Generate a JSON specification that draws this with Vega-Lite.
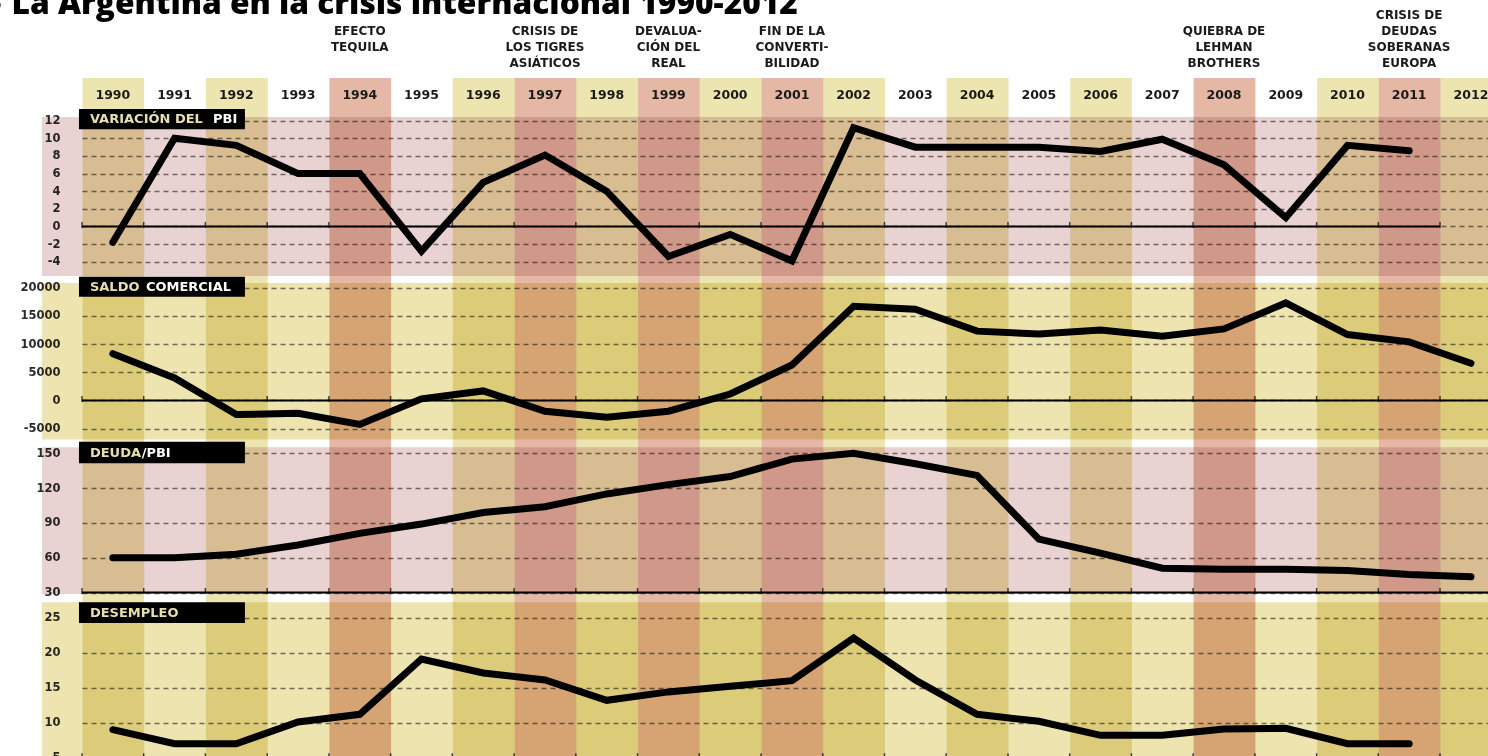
{
  "$schema": "https://vega.github.io/schema/vega-lite/v6.json",
  "width": 1406,
  "height": 756,
  "autosize": {"type": "none"},
  "padding": {"left": 82, "top": 0, "right": 0, "bottom": 0},
  "background": "#ffffff",
  "config": {"view": {"stroke": null}, "font": "DejaVu Sans"},
  "datasets": {
    "titulo": [{"texto": "● La Argentina en la crisis internacional 1990-2012"}],
    "cols": [
      {"year": "1990", "tono": "amarillo"}, {"year": "1991", "tono": "blanco"},
      {"year": "1992", "tono": "amarillo"}, {"year": "1993", "tono": "blanco"},
      {"year": "1994", "tono": "rojo"}, {"year": "1995", "tono": "blanco"},
      {"year": "1996", "tono": "amarillo"}, {"year": "1997", "tono": "rojo"},
      {"year": "1998", "tono": "amarillo"}, {"year": "1999", "tono": "rojo"},
      {"year": "2000", "tono": "amarillo"}, {"year": "2001", "tono": "rojo"},
      {"year": "2002", "tono": "amarillo"}, {"year": "2003", "tono": "blanco"},
      {"year": "2004", "tono": "amarillo"}, {"year": "2005", "tono": "blanco"},
      {"year": "2006", "tono": "amarillo"}, {"year": "2007", "tono": "blanco"},
      {"year": "2008", "tono": "rojo"}, {"year": "2009", "tono": "blanco"},
      {"year": "2010", "tono": "amarillo"}, {"year": "2011", "tono": "rojo"},
      {"year": "2012", "tono": "amarillo"}
    ],
    "crisis": [
      {"year": "1994", "texto": ["", "", "", "", "EFECTO", "", "TEQUILA"]},
      {"year": "1997", "texto": ["", "CRISIS DE", "LOS TIGRES", "ASIÁTICOS"]},
      {"year": "1999", "texto": ["", "DEVALUA-", "CIÓN DEL", "REAL"]},
      {"year": "2001", "texto": ["", "FIN DE LA", "CONVERTI-", "BILIDAD"]},
      {"year": "2008", "texto": ["", "QUIEBRA DE", "LEHMAN", "BROTHERS"]},
      {"year": "2011", "texto": ["CRISIS DE", "DEUDAS", "SOBERANAS", "EUROPA"]}
    ],
    "pbi": [
      {"year": "1990", "valor": -1.8}, {"year": "1991", "valor": 10.0},
      {"year": "1992", "valor": 9.2}, {"year": "1993", "valor": 6.0},
      {"year": "1994", "valor": 6.0}, {"year": "1995", "valor": -2.8},
      {"year": "1996", "valor": 5.0}, {"year": "1997", "valor": 8.1},
      {"year": "1998", "valor": 4.0}, {"year": "1999", "valor": -3.4},
      {"year": "2000", "valor": -0.9}, {"year": "2001", "valor": -3.9},
      {"year": "2002", "valor": 11.2}, {"year": "2003", "valor": 9.0},
      {"year": "2004", "valor": 9.0}, {"year": "2005", "valor": 9.0},
      {"year": "2006", "valor": 8.5}, {"year": "2007", "valor": 9.9},
      {"year": "2008", "valor": 7.0}, {"year": "2009", "valor": 1.0},
      {"year": "2010", "valor": 9.2}, {"year": "2011", "valor": 8.6}
    ],
    "saldo": [
      {"year": "1990", "valor": 8300}, {"year": "1991", "valor": 4000},
      {"year": "1992", "valor": -2500}, {"year": "1993", "valor": -2250},
      {"year": "1994", "valor": -4250}, {"year": "1995", "valor": 300},
      {"year": "1996", "valor": 1700}, {"year": "1997", "valor": -1900},
      {"year": "1998", "valor": -2950}, {"year": "1999", "valor": -1900},
      {"year": "2000", "valor": 1150}, {"year": "2001", "valor": 6300},
      {"year": "2002", "valor": 16700}, {"year": "2003", "valor": 16200},
      {"year": "2004", "valor": 12300}, {"year": "2005", "valor": 11800},
      {"year": "2006", "valor": 12500}, {"year": "2007", "valor": 11400},
      {"year": "2008", "valor": 12700}, {"year": "2009", "valor": 17300},
      {"year": "2010", "valor": 11700}, {"year": "2011", "valor": 10400},
      {"year": "2012", "valor": 6600}
    ],
    "deuda": [
      {"year": "1990", "valor": 60}, {"year": "1991", "valor": 60},
      {"year": "1992", "valor": 63}, {"year": "1993", "valor": 71},
      {"year": "1994", "valor": 81}, {"year": "1995", "valor": 89},
      {"year": "1996", "valor": 99}, {"year": "1997", "valor": 104},
      {"year": "1998", "valor": 115}, {"year": "1999", "valor": 123},
      {"year": "2000", "valor": 130}, {"year": "2001", "valor": 145},
      {"year": "2002", "valor": 150}, {"year": "2003", "valor": 141},
      {"year": "2004", "valor": 131}, {"year": "2005", "valor": 76},
      {"year": "2006", "valor": 64}, {"year": "2007", "valor": 51},
      {"year": "2008", "valor": 50}, {"year": "2009", "valor": 50},
      {"year": "2010", "valor": 49}, {"year": "2011", "valor": 45.5},
      {"year": "2012", "valor": 43.5}
    ],
    "desempleo": [
      {"year": "1990", "valor": 9.0}, {"year": "1991", "valor": 7.0},
      {"year": "1992", "valor": 7.0}, {"year": "1993", "valor": 10.1},
      {"year": "1994", "valor": 11.2}, {"year": "1995", "valor": 19.1},
      {"year": "1996", "valor": 17.1}, {"year": "1997", "valor": 16.1},
      {"year": "1998", "valor": 13.2}, {"year": "1999", "valor": 14.4},
      {"year": "2000", "valor": 15.2}, {"year": "2001", "valor": 16.0},
      {"year": "2002", "valor": 22.1}, {"year": "2003", "valor": 16.1},
      {"year": "2004", "valor": 11.2}, {"year": "2005", "valor": 10.2},
      {"year": "2006", "valor": 8.2}, {"year": "2007", "valor": 8.2},
      {"year": "2008", "valor": 9.1}, {"year": "2009", "valor": 9.2},
      {"year": "2010", "valor": 7.0}, {"year": "2011", "valor": 7.0}
    ],
    "rotulos": [
      {"panel": "pbi", "parte1": "VARIACIÓN DEL", "parte2": "PBI"},
      {"panel": "saldo", "parte1": "SALDO", "parte2": "COMERCIAL"},
      {"panel": "deuda", "parte1": "DEUDA", "parte2": "/PBI"},
      {"panel": "desempleo", "parte1": "DESEMPLEO", "parte2": ""}
    ]
  },
  "resolve": {"scale": {"y": "independent"}, "axis": {"y": "independent"}},
  "layer": [
    {
      "layer": [
        {
          "data": {"name": "cols"},
          "mark": {"type": "rect", "blend": "multiply"},
          "encoding": {
            "x": {"field": "year", "type": "temporal", "timeUnit": "utcyear",
                  "scale": {"type": "utc", "nice": false, "domain": [{"year": 1990, "month": 1, "date": 1, "utc": true}, {"year": 2012, "month": 10, "date": 11, "utc": true}]},
                  "axis": null},
            "y": {"datum": 1, "type": "quantitative", "scale": {"domain": [0, 1], "range": [117, 78], "nice": false, "zero": false}, "axis": null},
            "y2": {"datum": -17},
            "color": {"field": "tono", "type": "nominal", "scale": {"domain": ["amarillo", "rojo", "blanco"], "range": ["#ede5b0", "#e5b8a5", "#ffffff"]}, "legend": null}
          }
        },
        {
          "data": {"name": "cols"},
          "mark": {"type": "text", "font": "DejaVu Sans", "fontWeight": "bold", "fontSize": 12.5, "color": "#1a1a1a", "align": "center", "baseline": "middle"},
          "encoding": {
            "x": {"field": "year", "type": "temporal", "timeUnit": "utcyear", "bandPosition": 0.5, "axis": null},
            "y": {"datum": 0.56, "type": "quantitative", "axis": null},
            "text": {"field": "year", "type": "temporal", "timeUnit": "utcyear"}
          }
        },
        {
          "data": {"name": "crisis"},
          "transform": [{"filter": "datum.year != '1994'"}],
          "mark": {"type": "text", "font": "DejaVu Sans", "fontWeight": "bold", "fontSize": 12, "lineHeight": 16, "color": "#1a1a1a", "align": "center", "baseline": "middle"},
          "encoding": {
            "x": {"field": "year", "type": "temporal", "timeUnit": "utcyear", "bandPosition": 0.5, "axis": null},
            "y": {"datum": 2.615, "type": "quantitative", "axis": null},
            "text": {"field": "texto", "type": "nominal"}
          }
        },
        {
          "data": {"name": "crisis"},
          "transform": [{"filter": "datum.year == '1994'"}],
          "mark": {"type": "text", "font": "DejaVu Sans", "fontWeight": "bold", "fontSize": 12, "lineHeight": 8, "color": "#1a1a1a", "align": "center", "baseline": "middle"},
          "encoding": {
            "x": {"field": "year", "type": "temporal", "timeUnit": "utcyear", "bandPosition": 0.5, "axis": null},
            "y": {"datum": 2.615, "type": "quantitative", "axis": null},
            "text": {"field": "texto", "type": "nominal"}
          }
        },
        {
          "data": {"name": "titulo"},
          "mark": {"type": "text", "font": "Open Sans", "fontWeight": 800, "fontSize": 31.7, "color": "#000000", "align": "left", "baseline": "alphabetic"},
          "encoding": {
            "x": {"datum": {"year": 1988, "month": 6, "date": 1, "utc": true}, "type": "temporal", "axis": null},
            "y": {"datum": 2.641, "type": "quantitative", "axis": null},
            "text": {"field": "texto", "type": "nominal"}
          }
        }
      ]
    },
    {
      "layer": [
        {
          "data": {"name": "rotulos"},
          "transform": [{"filter": "datum.panel == 'pbi'"}],
          "mark": {"type": "rect", "blend": "multiply", "color": "#e8d3d2"},
          "encoding": {
            "x": {"datum": {"year": 1989, "month": 5, "date": 9, "utc": true}, "type": "temporal", "axis": null},
            "x2": {"datum": {"year": 2013, "month": 6, "date": 1, "utc": true}},
            "y": {"datum": 12.42, "type": "quantitative", "scale": {"domain": [-5.62, 12.42], "range": [276, 117], "nice": false, "zero": false},
                  "axis": {"orient": "left", "values": [-4, -2, 0, 2, 4, 6, 8, 10, 12], "labelExpr": "'' + datum.value", "title": null, "domain": false, "ticks": false, "labelPadding": 22, "labelFont": "DejaVu Sans", "labelFontWeight": "bold", "labelFontSize": 11.5, "labelColor": "#2a2a2a", "labelFlush": false, "labelOverlap": false, "grid": true, "gridColor": "#7a7a7a", "gridDash": [5, 4], "gridWidth": 1.4}},
            "y2": {"datum": -5.62}
          }
        },
        {
          "data": {"name": "rotulos"},
          "transform": [{"filter": "datum.panel == 'pbi'"}],
          "mark": {"type": "rule", "color": "#000000", "strokeWidth": 2},
          "encoding": {
            "x": {"datum": {"year": 1990, "month": 1, "date": 1, "utc": true}, "type": "temporal", "axis": null},
            "x2": {"datum": {"year": 2012, "month": 1, "date": 1, "utc": true}},
            "y": {"datum": 0, "type": "quantitative"}
          }
        },
        {
          "data": {"name": "cols"},
          "mark": {"type": "tick", "orient": "vertical", "color": "#000000", "size": 6, "thickness": 1.5, "yOffset": -1.5},
          "encoding": {
            "x": {"field": "year", "type": "temporal", "timeUnit": "utcyear", "bandPosition": 0, "axis": null},
            "y": {"datum": 0, "type": "quantitative"}
          }
        },
        {
          "data": {"name": "pbi"},
          "mark": {"type": "line", "color": "#000000", "strokeWidth": 7, "strokeCap": "round", "strokeJoin": "miter", "strokeMiterLimit": 3},
          "encoding": {
            "x": {"field": "year", "type": "temporal", "timeUnit": "utcyear", "bandPosition": 0.5, "axis": null},
            "y": {"field": "valor", "type": "quantitative"}
          }
        },
        {
          "data": {"name": "rotulos"},
          "transform": [{"filter": "datum.panel == 'pbi'"}],
          "mark": {"type": "rect", "color": "#000000"},
          "encoding": {
            "x": {"datum": {"year": 1989, "month": 12, "date": 14, "utc": true}, "type": "temporal", "axis": null},
            "x2": {"datum": {"year": 1992, "month": 8, "date": 22, "utc": true}},
            "y": {"datum": 13.33, "type": "quantitative"},
            "y2": {"datum": 11.02}
          }
        },
        {
          "data": {"name": "rotulos"},
          "transform": [{"filter": "datum.panel == 'pbi'"}],
          "mark": {"type": "text", "font": "DejaVu Sans", "fontWeight": "bold", "fontSize": 13, "color": "#e6dfae", "align": "left", "baseline": "middle"},
          "encoding": {
            "x": {"datum": {"year": 1990, "month": 2, "date": 17, "utc": true}, "type": "temporal", "axis": null},
            "y": {"datum": 12.14, "type": "quantitative"},
            "text": {"field": "parte1"}
          }
        },
        {
          "data": {"name": "rotulos"},
          "transform": [{"filter": "datum.panel == 'pbi'"}],
          "mark": {"type": "text", "font": "DejaVu Sans", "fontWeight": "bold", "fontSize": 13, "color": "#ffffff", "align": "left", "baseline": "middle"},
          "encoding": {
            "x": {"datum": {"year": 1992, "month": 2, "date": 15, "utc": true}, "type": "temporal", "axis": null},
            "y": {"datum": 12.14, "type": "quantitative"},
            "text": {"field": "parte2"}
          }
        }
      ]
    },
    {
      "layer": [
        {
          "data": {"name": "rotulos"},
          "transform": [{"filter": "datum.panel == 'saldo'"}],
          "mark": {"type": "rect", "blend": "multiply", "color": "#ede4b0"},
          "encoding": {
            "x": {"datum": {"year": 1989, "month": 5, "date": 9, "utc": true}, "type": "temporal", "axis": null},
            "x2": {"datum": {"year": 2013, "month": 6, "date": 1, "utc": true}},
            "y": {"datum": 20833, "type": "quantitative", "scale": {"domain": [-6915, 20833], "range": [439.5, 283], "nice": false, "zero": false},
                  "axis": {"orient": "left", "values": [-5000, 0, 5000, 10000, 15000, 20000], "labelExpr": "'' + datum.value", "title": null, "domain": false, "ticks": false, "labelPadding": 22, "labelFont": "DejaVu Sans", "labelFontWeight": "bold", "labelFontSize": 11.5, "labelColor": "#2a2a2a", "labelFlush": false, "labelOverlap": false, "grid": true, "gridColor": "#7a7a7a", "gridDash": [5, 4], "gridWidth": 1.4}},
            "y2": {"datum": -6915}
          }
        },
        {
          "data": {"name": "rotulos"},
          "transform": [{"filter": "datum.panel == 'saldo'"}],
          "mark": {"type": "rule", "color": "#000000", "strokeWidth": 2},
          "encoding": {
            "x": {"datum": {"year": 1990, "month": 1, "date": 1, "utc": true}, "type": "temporal", "axis": null},
            "x2": {"datum": {"year": 2013, "month": 6, "date": 1, "utc": true}},
            "y": {"datum": 0, "type": "quantitative"}
          }
        },
        {
          "data": {"name": "cols"},
          "mark": {"type": "tick", "orient": "vertical", "color": "#000000", "size": 6, "thickness": 1.5, "yOffset": -1.5},
          "encoding": {
            "x": {"field": "year", "type": "temporal", "timeUnit": "utcyear", "bandPosition": 0, "axis": null},
            "y": {"datum": 0, "type": "quantitative"}
          }
        },
        {
          "data": {"name": "saldo"},
          "mark": {"type": "line", "color": "#000000", "strokeWidth": 7, "strokeCap": "round", "strokeJoin": "miter", "strokeMiterLimit": 3},
          "encoding": {
            "x": {"field": "year", "type": "temporal", "timeUnit": "utcyear", "bandPosition": 0.5, "axis": null},
            "y": {"field": "valor", "type": "quantitative"}
          }
        },
        {
          "data": {"name": "rotulos"},
          "transform": [{"filter": "datum.panel == 'saldo'"}],
          "mark": {"type": "rect", "color": "#000000"},
          "encoding": {
            "x": {"datum": {"year": 1989, "month": 12, "date": 14, "utc": true}, "type": "temporal", "axis": null},
            "x2": {"datum": {"year": 1992, "month": 8, "date": 22, "utc": true}},
            "y": {"datum": 21950, "type": "quantitative"},
            "y2": {"datum": 18404}
          }
        },
        {
          "data": {"name": "rotulos"},
          "transform": [{"filter": "datum.panel == 'saldo'"}],
          "mark": {"type": "text", "font": "DejaVu Sans", "fontWeight": "bold", "fontSize": 13, "color": "#e6dfae", "align": "left", "baseline": "middle"},
          "encoding": {
            "x": {"datum": {"year": 1990, "month": 2, "date": 17, "utc": true}, "type": "temporal", "axis": null},
            "y": {"datum": 20177, "type": "quantitative"},
            "text": {"field": "parte1"}
          }
        },
        {
          "data": {"name": "rotulos"},
          "transform": [{"filter": "datum.panel == 'saldo'"}],
          "mark": {"type": "text", "font": "DejaVu Sans", "fontWeight": "bold", "fontSize": 13, "color": "#ffffff", "align": "left", "baseline": "middle"},
          "encoding": {
            "x": {"datum": {"year": 1991, "month": 1, "date": 14, "utc": true}, "type": "temporal", "axis": null},
            "y": {"datum": 20177, "type": "quantitative"},
            "text": {"field": "parte2"}
          }
        }
      ]
    },
    {
      "layer": [
        {
          "data": {"name": "rotulos"},
          "transform": [{"filter": "datum.panel == 'deuda'"}],
          "mark": {"type": "rect", "blend": "multiply", "color": "#e8d3d2"},
          "encoding": {
            "x": {"datum": {"year": 1989, "month": 5, "date": 9, "utc": true}, "type": "temporal", "axis": null},
            "x2": {"datum": {"year": 2013, "month": 6, "date": 1, "utc": true}},
            "y": {"datum": 155.2, "type": "quantitative", "scale": {"domain": [30, 155.2], "range": [592.5, 447.3], "nice": false, "zero": false},
                  "axis": {"orient": "left", "values": [30, 60, 90, 120, 150], "labelExpr": "'' + datum.value", "title": null, "domain": false, "ticks": false, "labelPadding": 22, "labelFont": "DejaVu Sans", "labelFontWeight": "bold", "labelFontSize": 11.5, "labelColor": "#2a2a2a", "labelFlush": false, "labelOverlap": false, "grid": true, "gridColor": "#7a7a7a", "gridDash": [5, 4], "gridWidth": 1.4}},
            "y2": {"datum": 28.8}
          }
        },
        {
          "data": {"name": "rotulos"},
          "transform": [{"filter": "datum.panel == 'deuda'"}],
          "mark": {"type": "rule", "color": "#000000", "strokeWidth": 2},
          "encoding": {
            "x": {"datum": {"year": 1990, "month": 1, "date": 1, "utc": true}, "type": "temporal", "axis": null},
            "x2": {"datum": {"year": 2013, "month": 6, "date": 1, "utc": true}},
            "y": {"datum": 30, "type": "quantitative"}
          }
        },
        {
          "data": {"name": "cols"},
          "mark": {"type": "tick", "orient": "vertical", "color": "#000000", "size": 6, "thickness": 1.5, "yOffset": -1.5},
          "encoding": {
            "x": {"field": "year", "type": "temporal", "timeUnit": "utcyear", "bandPosition": 0, "axis": null},
            "y": {"datum": 30, "type": "quantitative"}
          }
        },
        {
          "data": {"name": "deuda"},
          "mark": {"type": "line", "color": "#000000", "strokeWidth": 7, "strokeCap": "round", "strokeJoin": "miter", "strokeMiterLimit": 3},
          "encoding": {
            "x": {"field": "year", "type": "temporal", "timeUnit": "utcyear", "bandPosition": 0.5, "axis": null},
            "y": {"field": "valor", "type": "quantitative"}
          }
        },
        {
          "data": {"name": "rotulos"},
          "transform": [{"filter": "datum.panel == 'deuda'"}],
          "mark": {"type": "rect", "color": "#000000"},
          "encoding": {
            "x": {"datum": {"year": 1989, "month": 12, "date": 14, "utc": true}, "type": "temporal", "axis": null},
            "x2": {"datum": {"year": 1992, "month": 8, "date": 22, "utc": true}},
            "y": {"datum": 160, "type": "quantitative"},
            "y2": {"datum": 141.4}
          }
        },
        {
          "data": {"name": "rotulos"},
          "transform": [{"filter": "datum.panel == 'deuda'"}],
          "mark": {"type": "text", "font": "DejaVu Sans", "fontWeight": "bold", "fontSize": 13, "color": "#e6dfae", "align": "left", "baseline": "middle"},
          "encoding": {
            "x": {"datum": {"year": 1990, "month": 2, "date": 17, "utc": true}, "type": "temporal", "axis": null},
            "y": {"datum": 150.7, "type": "quantitative"},
            "text": {"field": "parte1"}
          }
        },
        {
          "data": {"name": "rotulos"},
          "transform": [{"filter": "datum.panel == 'deuda'"}],
          "mark": {"type": "text", "font": "DejaVu Sans", "fontWeight": "bold", "fontSize": 13, "color": "#ffffff", "align": "left", "baseline": "middle"},
          "encoding": {
            "x": {"datum": {"year": 1990, "month": 12, "date": 20, "utc": true}, "type": "temporal", "axis": null},
            "y": {"datum": 150.7, "type": "quantitative"},
            "text": {"field": "parte2"}
          }
        }
      ]
    },
    {
      "layer": [
        {
          "data": {"name": "rotulos"},
          "transform": [{"filter": "datum.panel == 'desempleo'"}],
          "mark": {"type": "rect", "blend": "multiply", "color": "#ede4b0"},
          "encoding": {
            "x": {"datum": {"year": 1989, "month": 5, "date": 9, "utc": true}, "type": "temporal", "axis": null},
            "x2": {"datum": {"year": 2013, "month": 6, "date": 1, "utc": true}},
            "y": {"datum": 27.2, "type": "quantitative", "scale": {"domain": [5, 27.2], "range": [757.7, 602.3], "nice": false, "zero": false},
                  "axis": {"orient": "left", "values": [5, 10, 15, 20, 25], "labelExpr": "'' + datum.value", "title": null, "domain": false, "ticks": false, "labelPadding": 22, "labelFont": "DejaVu Sans", "labelFontWeight": "bold", "labelFontSize": 11.5, "labelColor": "#2a2a2a", "labelFlush": false, "labelOverlap": false, "grid": true, "gridColor": "#7a7a7a", "gridDash": [5, 4], "gridWidth": 1.4}},
            "y2": {"datum": 3}
          }
        },
        {
          "data": {"name": "rotulos"},
          "transform": [{"filter": "datum.panel == 'desempleo'"}],
          "mark": {"type": "rule", "color": "#000000", "strokeWidth": 2},
          "encoding": {
            "x": {"datum": {"year": 1990, "month": 1, "date": 1, "utc": true}, "type": "temporal", "axis": null},
            "x2": {"datum": {"year": 2013, "month": 6, "date": 1, "utc": true}},
            "y": {"datum": 5, "type": "quantitative"}
          }
        },
        {
          "data": {"name": "cols"},
          "mark": {"type": "tick", "orient": "vertical", "color": "#000000", "size": 6, "thickness": 1.5, "yOffset": -1.5},
          "encoding": {
            "x": {"field": "year", "type": "temporal", "timeUnit": "utcyear", "bandPosition": 0, "axis": null},
            "y": {"datum": 5, "type": "quantitative"}
          }
        },
        {
          "data": {"name": "desempleo"},
          "mark": {"type": "line", "color": "#000000", "strokeWidth": 7, "strokeCap": "round", "strokeJoin": "miter", "strokeMiterLimit": 3},
          "encoding": {
            "x": {"field": "year", "type": "temporal", "timeUnit": "utcyear", "bandPosition": 0.5, "axis": null},
            "y": {"field": "valor", "type": "quantitative"}
          }
        },
        {
          "data": {"name": "rotulos"},
          "transform": [{"filter": "datum.panel == 'desempleo'"}],
          "mark": {"type": "rect", "color": "#000000"},
          "encoding": {
            "x": {"datum": {"year": 1989, "month": 12, "date": 14, "utc": true}, "type": "temporal", "axis": null},
            "x2": {"datum": {"year": 1992, "month": 8, "date": 22, "utc": true}},
            "y": {"datum": 27.2, "type": "quantitative"},
            "y2": {"datum": 24.24}
          }
        },
        {
          "data": {"name": "rotulos"},
          "transform": [{"filter": "datum.panel == 'desempleo'"}],
          "mark": {"type": "text", "font": "DejaVu Sans", "fontWeight": "bold", "fontSize": 13, "color": "#e6dfae", "align": "left", "baseline": "middle"},
          "encoding": {
            "x": {"datum": {"year": 1990, "month": 2, "date": 17, "utc": true}, "type": "temporal", "axis": null},
            "y": {"datum": 25.73, "type": "quantitative"},
            "text": {"field": "parte1"}
          }
        }
      ]
    }
  ]
}
